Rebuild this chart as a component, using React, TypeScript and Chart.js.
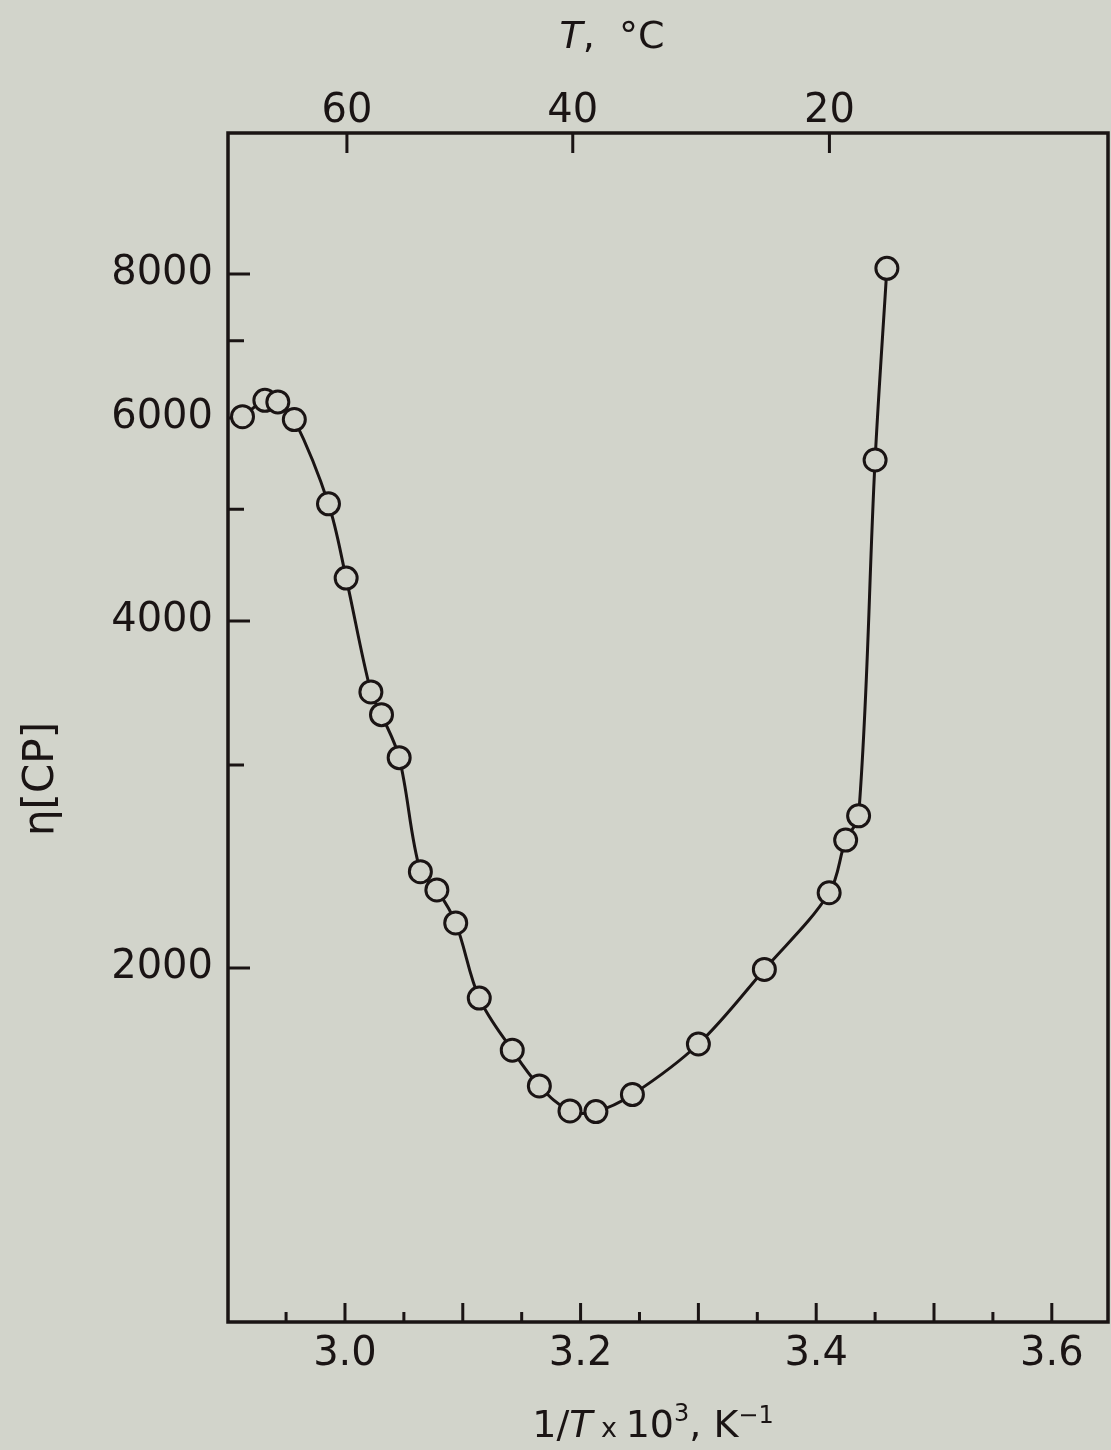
import React, { useEffect, useRef } from 'react';
import { Chart, registerables } from 'chart.js';

Chart.register(...registerables);

// Data: 1/T x 10^3 (K^-1) and viscosity eta (cP)
const INV_T = [2.913, 2.932, 2.943, 2.957, 2.986, 3.001, 3.022, 3.031, 3.046, 3.064, 3.078, 3.094, 3.114, 3.142, 3.165, 3.191, 3.213, 3.244, 3.3, 3.356, 3.411, 3.425, 3.436, 3.45, 3.46];
const VISCOSITY = [6015, 6214, 6195, 5980, 5054, 4357, 3471, 3317, 3044, 2424, 2337, 2188, 1883, 1697, 1580, 1503, 1501, 1553, 1718, 1994, 2324, 2582, 2710, 5516, 8089];

// Axis ticks
const X_TICKS = [2.95, 3.0, 3.05, 3.1, 3.15, 3.2, 3.25, 3.3, 3.35, 3.4, 3.45, 3.5, 3.55, 3.6];
const X_MAJOR = [3.0, 3.1, 3.2, 3.3, 3.4, 3.5, 3.6];
const X_LABELS = [3.0, 3.2, 3.4, 3.6];
const Y_TICKS = [2000, 3000, 4000, 5000, 6000, 7000, 8000];
const Y_LABELS = [2000, 4000, 6000, 8000];
const TOP_TICKS_C = [60, 40, 20];

const X_MIN = 2.9007;
const X_MAX = 3.6477;
const Y_MIN = 986;
const Y_MAX = 10600;

const BG = '#d2d4cb';
const INK = '#1a1414';
const FONT = '"DejaVu Sans", sans-serif';

const near = (a: number, b: number) => Math.abs(a - b) < 1e-6;
const cToInv = (c: number) => 1000 / (c + 273.15);

type Seg = { t: string; size: number; italic?: boolean; dy?: number };

function drawSegs(ctx: CanvasRenderingContext2D, segs: Seg[], cx: number, baseline: number) {
  let total = 0;
  for (const s of segs) {
    ctx.font = `${s.italic ? 'italic ' : ''}${s.size}px ${FONT}`;
    total += ctx.measureText(s.t).width;
  }
  let x = cx - total / 2;
  ctx.textAlign = 'left';
  ctx.textBaseline = 'alphabetic';
  for (const s of segs) {
    ctx.font = `${s.italic ? 'italic ' : ''}${s.size}px ${FONT}`;
    ctx.fillText(s.t, x, baseline + (s.dy || 0));
    x += ctx.measureText(s.t).width;
  }
}

const framePlugin = {
  id: 'framePlugin',
  beforeDatasetsDraw(chart: any) {
    const { ctx, chartArea } = chart;
    const { left, right, top, bottom } = chartArea;
    const xs = chart.scales.x;
    const ys = chart.scales.y;
    const xt = chart.scales.xTop;
    ctx.save();
    ctx.strokeStyle = INK;
    ctx.lineWidth = 3.5;
    ctx.lineCap = 'square';
    ctx.strokeRect(left, top, right - left, bottom - top);
    ctx.lineWidth = 3;
    ctx.lineCap = 'butt';
    ctx.beginPath();
    for (const v of X_TICKS) {
      const px = xs.getPixelForValue(v);
      const len = X_MAJOR.some((m) => near(m, v)) ? 19 : 10;
      ctx.moveTo(px, bottom);
      ctx.lineTo(px, bottom - len);
    }
    for (const v of Y_TICKS) {
      const py = ys.getPixelForValue(v);
      const len = Y_LABELS.includes(v) ? 22 : 16;
      ctx.moveTo(left, py);
      ctx.lineTo(left + len, py);
    }
    for (const c of TOP_TICKS_C) {
      const px = xt.getPixelForValue(cToInv(c));
      ctx.moveTo(px, top);
      ctx.lineTo(px, top + 20);
    }
    ctx.stroke();
    ctx.restore();
  },
  afterDraw(chart: any) {
    const { ctx } = chart;
    ctx.save();
    ctx.fillStyle = INK;
    // top title: T, °C
    drawSegs(ctx, [
      { t: 'T', size: 38, italic: true },
      { t: ',  °C', size: 38 },
    ], 612, 48);
    // bottom title: 1/T x 10³, K⁻¹
    drawSegs(ctx, [
      { t: '1/', size: 38 },
      { t: 'T', size: 38, italic: true },
      { t: ' x ', size: 27 },
      { t: '10', size: 38 },
      { t: '3', size: 24, dy: -16 },
      { t: ', K', size: 38 },
      { t: '\u22121', size: 24, dy: -14 },
    ], 653, 1437);
    // y title: η[CP]
    ctx.translate(42, 779);
    ctx.rotate(-Math.PI / 2);
    ctx.font = `42px ${FONT}`;
    ctx.textAlign = 'center';
    ctx.textBaseline = 'middle';
    ctx.fillText('\u03b7[CP]', 0, 0);
    ctx.restore();
  },
};

export default function App() {
  const canvasRef = useRef<HTMLCanvasElement | null>(null);

  useEffect(() => {
    const canvas = canvasRef.current;
    if (!canvas) return;
    const tickFont = { family: FONT, size: 40 };
    const chart = new Chart(canvas, {
      type: 'line',
      data: {
        datasets: [
          {
            data: INV_T.map((x, i) => ({ x, y: VISCOSITY[i] })),
            xAxisID: 'x',
            yAxisID: 'y',
            borderColor: INK,
            borderWidth: 3,
            tension: 0.35,
            fill: false,
            pointRadius: 11,
            pointBorderWidth: 3,
            pointBorderColor: INK,
            pointBackgroundColor: BG,
            clip: false,
          } as any,
        ],
      },
      options: {
        animation: false,
        responsive: false,
        devicePixelRatio: 1,
        layout: { autoPadding: false, padding: { left: 0, right: 3, top: 0, bottom: 0 } },
        plugins: { legend: { display: false }, tooltip: { enabled: false } },
        scales: {
          x: {
            type: 'linear',
            position: 'bottom',
            min: X_MIN,
            max: X_MAX,
            afterBuildTicks: (s: any) => {
              s.ticks = X_TICKS.map((v) => ({ value: v }));
            },
            afterFit: (s: any) => {
              s.height = 128;
            },
            grid: { display: false, drawTicks: false },
            border: { display: false },
            ticks: {
              autoSkip: false,
              maxRotation: 0,
              padding: 9,
              color: INK,
              font: tickFont,
              callback: (v: any) => (X_LABELS.some((l) => near(l, Number(v))) ? Number(v).toFixed(1) : ''),
            },
          },
          xTop: {
            type: 'linear',
            position: 'top',
            min: X_MIN,
            max: X_MAX,
            afterBuildTicks: (s: any) => {
              s.ticks = TOP_TICKS_C.map((c) => ({ value: cToInv(c) }));
            },
            afterFit: (s: any) => {
              s.height = 133;
            },
            grid: { display: false, drawTicks: false },
            border: { display: false },
            ticks: {
              autoSkip: false,
              maxRotation: 0,
              padding: -3,
              color: INK,
              font: tickFont,
              callback: (_v: any, i: number) => String(TOP_TICKS_C[i]),
            },
          },
          y: {
            type: 'logarithmic',
            position: 'left',
            min: Y_MIN,
            max: Y_MAX,
            afterBuildTicks: (s: any) => {
              s.ticks = Y_TICKS.map((v) => ({ value: v }));
            },
            afterFit: (s: any) => {
              s.width = 228;
            },
            grid: { display: false, drawTicks: false },
            border: { display: false },
            ticks: {
              autoSkip: false,
              padding: 15,
              color: INK,
              font: tickFont,
              callback: (v: any) => (Y_LABELS.includes(Number(v)) ? String(v) : ''),
            },
          },
        },
      } as any,
      plugins: [framePlugin],
    });
    return () => chart.destroy();
  }, []);

  return (
    <div style={{ position: 'absolute', left: 0, top: 0, width: 1111, height: 1450, background: BG, overflow: 'hidden' }}>
      <canvas ref={canvasRef} width={1111} height={1450} style={{ display: 'block' }} />
    </div>
  );
}
